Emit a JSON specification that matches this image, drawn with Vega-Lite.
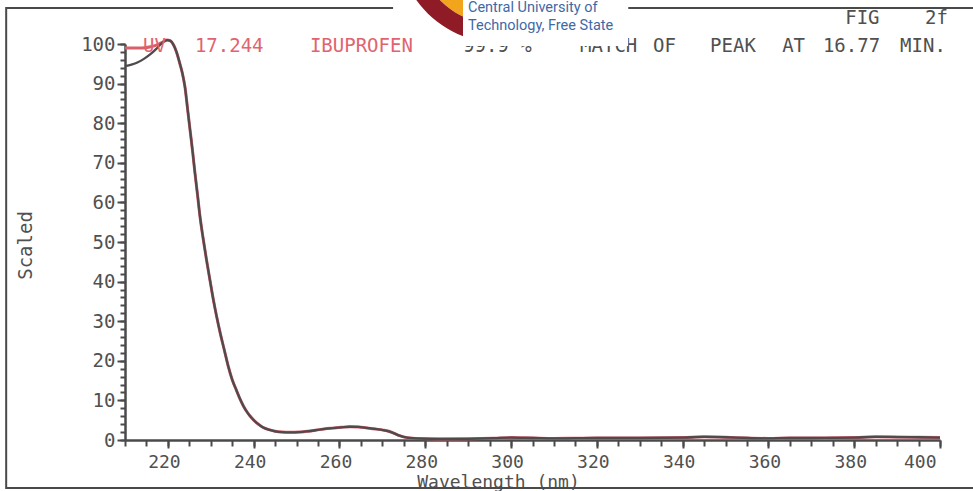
{
  "$schema": "https://vega.github.io/schema/vega-lite/v6.json",
  "width": 815,
  "height": 396,
  "autosize": {"type": "none"},
  "padding": {"left": 125, "top": 44, "right": 33, "bottom": 51},
  "background": "white",
  "config": {"view": {"stroke": null}},
  "datasets": {
    "spectra": [
      {"series": "library", "wavelength": 210, "value": 99.0},
      {"series": "library", "wavelength": 212, "value": 99.0},
      {"series": "library", "wavelength": 214, "value": 99.0},
      {"series": "library", "wavelength": 216, "value": 99.3},
      {"series": "library", "wavelength": 217.5, "value": 99.8},
      {"series": "library", "wavelength": 218.8, "value": 100.5},
      {"series": "library", "wavelength": 219.8, "value": 101.0},
      {"series": "library", "wavelength": 220.6, "value": 100.8},
      {"series": "library", "wavelength": 221.3, "value": 99.8},
      {"series": "library", "wavelength": 222, "value": 98.0},
      {"series": "library", "wavelength": 222.8, "value": 95.0},
      {"series": "library", "wavelength": 223.4, "value": 92.5},
      {"series": "library", "wavelength": 224, "value": 89.0},
      {"series": "library", "wavelength": 224.6, "value": 83.5},
      {"series": "library", "wavelength": 225.2, "value": 78.0},
      {"series": "library", "wavelength": 225.8, "value": 72.5},
      {"series": "library", "wavelength": 226.3, "value": 67.5},
      {"series": "library", "wavelength": 226.9, "value": 62.0},
      {"series": "library", "wavelength": 227.5, "value": 56.3},
      {"series": "library", "wavelength": 228.2, "value": 51.0},
      {"series": "library", "wavelength": 229, "value": 45.5},
      {"series": "library", "wavelength": 229.8, "value": 40.4},
      {"series": "library", "wavelength": 230.6, "value": 35.4},
      {"series": "library", "wavelength": 231.4, "value": 31.0},
      {"series": "library", "wavelength": 232.2, "value": 27.0},
      {"series": "library", "wavelength": 233.2, "value": 22.5},
      {"series": "library", "wavelength": 234.1, "value": 18.5},
      {"series": "library", "wavelength": 235, "value": 15.2},
      {"series": "library", "wavelength": 236, "value": 12.5},
      {"series": "library", "wavelength": 236.8, "value": 10.4},
      {"series": "library", "wavelength": 237.6, "value": 8.6},
      {"series": "library", "wavelength": 238.5, "value": 7.0},
      {"series": "library", "wavelength": 239.5, "value": 5.6},
      {"series": "library", "wavelength": 240.7, "value": 4.3},
      {"series": "library", "wavelength": 242, "value": 3.3},
      {"series": "library", "wavelength": 243.5, "value": 2.6},
      {"series": "library", "wavelength": 245, "value": 2.2},
      {"series": "library", "wavelength": 246.6, "value": 2.0},
      {"series": "library", "wavelength": 248.5, "value": 1.95},
      {"series": "library", "wavelength": 250.6, "value": 2.0},
      {"series": "library", "wavelength": 252.5, "value": 2.2},
      {"series": "library", "wavelength": 254.6, "value": 2.5},
      {"series": "library", "wavelength": 256.5, "value": 2.8},
      {"series": "library", "wavelength": 258.4, "value": 3.0},
      {"series": "library", "wavelength": 260.4, "value": 3.2},
      {"series": "library", "wavelength": 262.4, "value": 3.35},
      {"series": "library", "wavelength": 264.4, "value": 3.3},
      {"series": "library", "wavelength": 266.4, "value": 3.05},
      {"series": "library", "wavelength": 268.3, "value": 2.8},
      {"series": "library", "wavelength": 270.2, "value": 2.5},
      {"series": "library", "wavelength": 271.5, "value": 2.2},
      {"series": "library", "wavelength": 272.5, "value": 1.8},
      {"series": "library", "wavelength": 274, "value": 1.1},
      {"series": "library", "wavelength": 275.8, "value": 0.6},
      {"series": "library", "wavelength": 278.8, "value": 0.35},
      {"series": "library", "wavelength": 283.5, "value": 0.25},
      {"series": "library", "wavelength": 290, "value": 0.3},
      {"series": "library", "wavelength": 296, "value": 0.45},
      {"series": "library", "wavelength": 300, "value": 0.6},
      {"series": "library", "wavelength": 305, "value": 0.5},
      {"series": "library", "wavelength": 310, "value": 0.4},
      {"series": "library", "wavelength": 315, "value": 0.45},
      {"series": "library", "wavelength": 320, "value": 0.5},
      {"series": "library", "wavelength": 330, "value": 0.5},
      {"series": "library", "wavelength": 340, "value": 0.6},
      {"series": "library", "wavelength": 345, "value": 0.8},
      {"series": "library", "wavelength": 350, "value": 0.7},
      {"series": "library", "wavelength": 355, "value": 0.5},
      {"series": "library", "wavelength": 360, "value": 0.4},
      {"series": "library", "wavelength": 365, "value": 0.5},
      {"series": "library", "wavelength": 370, "value": 0.5},
      {"series": "library", "wavelength": 375, "value": 0.55},
      {"series": "library", "wavelength": 380, "value": 0.6},
      {"series": "library", "wavelength": 385, "value": 0.8},
      {"series": "library", "wavelength": 390, "value": 0.75},
      {"series": "library", "wavelength": 395, "value": 0.7},
      {"series": "library", "wavelength": 400, "value": 0.6},
      {"series": "sample", "wavelength": 210, "value": 94.4},
      {"series": "sample", "wavelength": 211.5, "value": 94.8},
      {"series": "sample", "wavelength": 213, "value": 95.4},
      {"series": "sample", "wavelength": 214.5, "value": 96.3},
      {"series": "sample", "wavelength": 216, "value": 97.5},
      {"series": "sample", "wavelength": 217.5, "value": 99.0},
      {"series": "sample", "wavelength": 218.8, "value": 100.4},
      {"series": "sample", "wavelength": 219.8, "value": 101.0},
      {"series": "sample", "wavelength": 220.6, "value": 100.8},
      {"series": "sample", "wavelength": 221.3, "value": 99.8},
      {"series": "sample", "wavelength": 222, "value": 98.0},
      {"series": "sample", "wavelength": 222.8, "value": 95.0},
      {"series": "sample", "wavelength": 223.4, "value": 92.5},
      {"series": "sample", "wavelength": 224, "value": 89.0},
      {"series": "sample", "wavelength": 224.6, "value": 83.5},
      {"series": "sample", "wavelength": 225.2, "value": 78.0},
      {"series": "sample", "wavelength": 225.8, "value": 72.5},
      {"series": "sample", "wavelength": 226.3, "value": 67.5},
      {"series": "sample", "wavelength": 226.9, "value": 62.0},
      {"series": "sample", "wavelength": 227.5, "value": 56.3},
      {"series": "sample", "wavelength": 228.2, "value": 51.0},
      {"series": "sample", "wavelength": 229, "value": 45.5},
      {"series": "sample", "wavelength": 229.8, "value": 40.4},
      {"series": "sample", "wavelength": 230.6, "value": 35.4},
      {"series": "sample", "wavelength": 231.4, "value": 31.0},
      {"series": "sample", "wavelength": 232.2, "value": 27.0},
      {"series": "sample", "wavelength": 233.2, "value": 22.5},
      {"series": "sample", "wavelength": 234.1, "value": 18.5},
      {"series": "sample", "wavelength": 235, "value": 15.2},
      {"series": "sample", "wavelength": 236, "value": 12.5},
      {"series": "sample", "wavelength": 236.8, "value": 10.4},
      {"series": "sample", "wavelength": 237.6, "value": 8.6},
      {"series": "sample", "wavelength": 238.5, "value": 7.0},
      {"series": "sample", "wavelength": 239.5, "value": 5.6},
      {"series": "sample", "wavelength": 240.7, "value": 4.3},
      {"series": "sample", "wavelength": 242, "value": 3.3},
      {"series": "sample", "wavelength": 243.5, "value": 2.6},
      {"series": "sample", "wavelength": 245, "value": 2.2},
      {"series": "sample", "wavelength": 246.6, "value": 2.0},
      {"series": "sample", "wavelength": 248.5, "value": 1.95},
      {"series": "sample", "wavelength": 250.6, "value": 2.0},
      {"series": "sample", "wavelength": 252.5, "value": 2.2},
      {"series": "sample", "wavelength": 254.6, "value": 2.5},
      {"series": "sample", "wavelength": 256.5, "value": 2.8},
      {"series": "sample", "wavelength": 258.4, "value": 3.0},
      {"series": "sample", "wavelength": 260.4, "value": 3.2},
      {"series": "sample", "wavelength": 262.4, "value": 3.35},
      {"series": "sample", "wavelength": 264.4, "value": 3.3},
      {"series": "sample", "wavelength": 266.4, "value": 3.05},
      {"series": "sample", "wavelength": 268.3, "value": 2.8},
      {"series": "sample", "wavelength": 270.2, "value": 2.5},
      {"series": "sample", "wavelength": 271.5, "value": 2.2},
      {"series": "sample", "wavelength": 272.5, "value": 1.8},
      {"series": "sample", "wavelength": 274, "value": 1.1},
      {"series": "sample", "wavelength": 275.8, "value": 0.6},
      {"series": "sample", "wavelength": 278.8, "value": 0.35},
      {"series": "sample", "wavelength": 283.5, "value": 0.25},
      {"series": "sample", "wavelength": 290, "value": 0.3},
      {"series": "sample", "wavelength": 296, "value": 0.45},
      {"series": "sample", "wavelength": 300, "value": 0.6},
      {"series": "sample", "wavelength": 305, "value": 0.5},
      {"series": "sample", "wavelength": 310, "value": 0.4},
      {"series": "sample", "wavelength": 315, "value": 0.45},
      {"series": "sample", "wavelength": 320, "value": 0.5},
      {"series": "sample", "wavelength": 330, "value": 0.5},
      {"series": "sample", "wavelength": 340, "value": 0.6},
      {"series": "sample", "wavelength": 345, "value": 0.8},
      {"series": "sample", "wavelength": 350, "value": 0.7},
      {"series": "sample", "wavelength": 355, "value": 0.5},
      {"series": "sample", "wavelength": 360, "value": 0.4},
      {"series": "sample", "wavelength": 365, "value": 0.5},
      {"series": "sample", "wavelength": 370, "value": 0.5},
      {"series": "sample", "wavelength": 375, "value": 0.55},
      {"series": "sample", "wavelength": 380, "value": 0.6},
      {"series": "sample", "wavelength": 385, "value": 0.8},
      {"series": "sample", "wavelength": 390, "value": 0.75},
      {"series": "sample", "wavelength": 395, "value": 0.7},
      {"series": "sample", "wavelength": 400, "value": 0.6}
    ]
  },
  "layer": [
    {
      "data": {"values": [{"frame": "border"}]},
      "mark": {"type": "rect", "fillOpacity": 0, "stroke": "#4a4a4a", "strokeWidth": 2},
      "encoding": {
        "x": {"datum": 182.3, "type": "quantitative", "scale": {"domain": [210, 400], "nice": false, "zero": false}, "axis": null},
        "x2": {"datum": 416},
        "y": {"datum": -12.1, "type": "quantitative", "scale": {"domain": [0, 100], "nice": false}, "axis": null},
        "y2": {"datum": 109.1}
      }
    },
    {
      "data": {"name": "spectra"},
      "transform": [{"filter": "datum.series === 'library'"}],
      "mark": {"type": "line", "color": "#d8606b", "strokeWidth": 3, "interpolate": "monotone"},
      "encoding": {
        "x": {"field": "wavelength", "type": "quantitative", "scale": {"domain": [210, 400], "nice": false, "zero": false},
          "axis": {"orient": "bottom", "values": [210,215,220,225,230,235,240,245,250,255,260,265,270,275,280,285,290,295,300,305,310,315,320,325,330,335,340,345,350,355,360,365,370,375,380,385,390,395,400],
            "labels": false, "domain": false, "grid": false, "title": null, "ticks": true, "tickSize": 6, "tickWidth": 2, "tickColor": "#4a4a4a"}},
        "y": {"field": "value", "type": "quantitative", "scale": {"domain": [0, 100], "nice": false},
          "axis": {"orient": "left", "values": [0,2,4,6,8,10,12,14,16,18,20,22,24,26,28,30,32,34,36,38,40,42,44,46,48,50,52,54,56,58,60,62,64,66,68,70,72,74,76,78,80,82,84,86,88,90,92,94,96,98,100],
            "labels": false, "domain": false, "grid": false, "title": null, "ticks": true, "tickSize": 5, "tickWidth": 2, "tickColor": "#4a4a4a"}}
      }
    },
    {
      "data": {"name": "spectra"},
      "transform": [{"filter": "datum.series === 'sample'"}],
      "mark": {"type": "line", "color": "#4f4a4c", "strokeWidth": 2.3, "interpolate": "monotone"},
      "encoding": {
        "x": {"field": "wavelength", "type": "quantitative", "scale": {"domain": [210, 400], "nice": false, "zero": false},
          "axis": {"orient": "bottom", "values": [220,240,260,280,300,320,340,360,380,400], "grid": false,
            "domain": true, "domainColor": "#4a4a4a", "domainWidth": 2.5,
            "tickSize": 8, "tickWidth": 2, "tickColor": "#4a4a4a",
            "labelFont": "DejaVu Sans Mono", "labelFontSize": 18, "labelColor": "#505050", "labelPadding": 5, "labelOffset": -4,
            "title": "Wavelength (nm)", "titleFont": "DejaVu Sans Mono", "titleFontSize": 18, "titleFontWeight": "normal", "titleColor": "#505050",
            "titleX": 373, "titleY": 42, "titleAlign": "center", "titleBaseline": "middle"}},
        "y": {"field": "value", "type": "quantitative", "scale": {"domain": [0, 100], "nice": false},
          "axis": {"orient": "left", "values": [0,10,20,30,40,50,60,70,80,90,100], "grid": false,
            "domain": true, "domainColor": "#4a4a4a", "domainWidth": 2.5,
            "tickSize": 8, "tickWidth": 2, "tickColor": "#4a4a4a",
            "labelFont": "DejaVu Sans Mono", "labelFontSize": 19, "labelColor": "#505050", "labelPadding": 2,
            "title": "Scaled", "titleFont": "DejaVu Sans Mono", "titleFontSize": 19, "titleFontWeight": "normal", "titleColor": "#505050",
            "titleX": -100, "titleY": 201, "titleAngle": 270, "titleAlign": "center", "titleBaseline": "middle"}}
      }
    },
    {
      "data": {"values": [{"label": "UV"}]},
      "mark": {"type": "text", "align": "left", "baseline": "middle", "font": "DejaVu Sans Mono", "fontSize": 19, "color": "#e0646f"},
      "encoding": {
        "text": {"field": "label"},
        "x": {"datum": 214.2, "type": "quantitative", "scale": {"domain": [210, 400], "nice": false, "zero": false}, "axis": null},
        "y": {"datum": 99.6, "type": "quantitative", "scale": {"domain": [0, 100], "nice": false}, "axis": null}
      }
    },
    {
      "data": {"values": [{"label": "17.244"}]},
      "mark": {"type": "text", "align": "left", "baseline": "middle", "font": "DejaVu Sans Mono", "fontSize": 19, "color": "#e0646f"},
      "encoding": {
        "text": {"field": "label"},
        "x": {"datum": 226.3, "type": "quantitative", "scale": {"domain": [210, 400], "nice": false, "zero": false}, "axis": null},
        "y": {"datum": 99.6, "type": "quantitative", "scale": {"domain": [0, 100], "nice": false}, "axis": null}
      }
    },
    {
      "data": {"values": [{"label": "IBUPROFEN"}]},
      "mark": {"type": "text", "align": "left", "baseline": "middle", "font": "DejaVu Sans Mono", "fontSize": 19, "color": "#e0646f"},
      "encoding": {
        "text": {"field": "label"},
        "x": {"datum": 253.1, "type": "quantitative", "scale": {"domain": [210, 400], "nice": false, "zero": false}, "axis": null},
        "y": {"datum": 99.6, "type": "quantitative", "scale": {"domain": [0, 100], "nice": false}, "axis": null}
      }
    },
    {
      "data": {"values": [{"label": "99.9 %"}]},
      "mark": {"type": "text", "align": "left", "baseline": "middle", "font": "DejaVu Sans Mono", "fontSize": 19, "color": "#505050"},
      "encoding": {
        "text": {"field": "label"},
        "x": {"datum": 288.8, "type": "quantitative", "scale": {"domain": [210, 400], "nice": false, "zero": false}, "axis": null},
        "y": {"datum": 99.6, "type": "quantitative", "scale": {"domain": [0, 100], "nice": false}, "axis": null}
      }
    },
    {
      "data": {"values": [{"label": "MATCH"}]},
      "mark": {"type": "text", "align": "left", "baseline": "middle", "font": "DejaVu Sans Mono", "fontSize": 19, "color": "#505050"},
      "encoding": {
        "text": {"field": "label"},
        "x": {"datum": 316.1, "type": "quantitative", "scale": {"domain": [210, 400], "nice": false, "zero": false}, "axis": null},
        "y": {"datum": 99.6, "type": "quantitative", "scale": {"domain": [0, 100], "nice": false}, "axis": null}
      }
    },
    {
      "data": {"values": [{"label": "OF"}]},
      "mark": {"type": "text", "align": "left", "baseline": "middle", "font": "DejaVu Sans Mono", "fontSize": 19, "color": "#505050"},
      "encoding": {
        "text": {"field": "label"},
        "x": {"datum": 333.1, "type": "quantitative", "scale": {"domain": [210, 400], "nice": false, "zero": false}, "axis": null},
        "y": {"datum": 99.6, "type": "quantitative", "scale": {"domain": [0, 100], "nice": false}, "axis": null}
      }
    },
    {
      "data": {"values": [{"label": "PEAK"}]},
      "mark": {"type": "text", "align": "left", "baseline": "middle", "font": "DejaVu Sans Mono", "fontSize": 19, "color": "#505050"},
      "encoding": {
        "text": {"field": "label"},
        "x": {"datum": 346.4, "type": "quantitative", "scale": {"domain": [210, 400], "nice": false, "zero": false}, "axis": null},
        "y": {"datum": 99.6, "type": "quantitative", "scale": {"domain": [0, 100], "nice": false}, "axis": null}
      }
    },
    {
      "data": {"values": [{"label": "AT"}]},
      "mark": {"type": "text", "align": "left", "baseline": "middle", "font": "DejaVu Sans Mono", "fontSize": 19, "color": "#505050"},
      "encoding": {
        "text": {"field": "label"},
        "x": {"datum": 363.2, "type": "quantitative", "scale": {"domain": [210, 400], "nice": false, "zero": false}, "axis": null},
        "y": {"datum": 99.6, "type": "quantitative", "scale": {"domain": [0, 100], "nice": false}, "axis": null}
      }
    },
    {
      "data": {"values": [{"label": "16.77"}]},
      "mark": {"type": "text", "align": "left", "baseline": "middle", "font": "DejaVu Sans Mono", "fontSize": 19, "color": "#505050"},
      "encoding": {
        "text": {"field": "label"},
        "x": {"datum": 372.7, "type": "quantitative", "scale": {"domain": [210, 400], "nice": false, "zero": false}, "axis": null},
        "y": {"datum": 99.6, "type": "quantitative", "scale": {"domain": [0, 100], "nice": false}, "axis": null}
      }
    },
    {
      "data": {"values": [{"label": "MIN."}]},
      "mark": {"type": "text", "align": "left", "baseline": "middle", "font": "DejaVu Sans Mono", "fontSize": 19, "color": "#505050"},
      "encoding": {
        "text": {"field": "label"},
        "x": {"datum": 390.7, "type": "quantitative", "scale": {"domain": [210, 400], "nice": false, "zero": false}, "axis": null},
        "y": {"datum": 99.6, "type": "quantitative", "scale": {"domain": [0, 100], "nice": false}, "axis": null}
      }
    },
    {
      "data": {"values": [{"label": "FIG"}]},
      "mark": {"type": "text", "align": "left", "baseline": "middle", "font": "DejaVu Sans Mono", "fontSize": 19, "color": "#505050"},
      "encoding": {
        "text": {"field": "label"},
        "x": {"datum": 377.9, "type": "quantitative", "scale": {"domain": [210, 400], "nice": false, "zero": false}, "axis": null},
        "y": {"datum": 106.6, "type": "quantitative", "scale": {"domain": [0, 100], "nice": false}, "axis": null}
      }
    },
    {
      "data": {"values": [{"label": "2f"}]},
      "mark": {"type": "text", "align": "left", "baseline": "middle", "font": "DejaVu Sans Mono", "fontSize": 19, "color": "#505050"},
      "encoding": {
        "text": {"field": "label"},
        "x": {"datum": 396.5, "type": "quantitative", "scale": {"domain": [210, 400], "nice": false, "zero": false}, "axis": null},
        "y": {"datum": 106.6, "type": "quantitative", "scale": {"domain": [0, 100], "nice": false}, "axis": null}
      }
    },
    {
      "data": {"values": [{"logo": "background"}]},
      "mark": {"type": "rect", "color": "white", "opacity": 1},
      "encoding": {
        "x": {"datum": 272.5, "type": "quantitative", "scale": {"domain": [210, 400], "nice": false, "zero": false}, "axis": null},
        "x2": {"datum": 327.3},
        "y": {"datum": 103.5, "type": "quantitative", "scale": {"domain": [0, 100], "nice": false}, "axis": null},
        "y2": {"datum": 116.2}
      }
    },
    {
      "data": {"values": [{"logo": "gold"}]},
      "mark": {"type": "point", "filled": true, "opacity": 1, "color": "#f2a51c", "strokeWidth": 0, "size": 48400,
        "shape": "M 0 0 L 0 0.773 A 0.773 0.773 0 0 1 -0.773 0 Z"},
      "encoding": {
        "x": {"datum": 297.42, "type": "quantitative", "scale": {"domain": [210, 400], "nice": false, "zero": false}, "axis": null},
        "y": {"datum": 126.26, "type": "quantitative", "scale": {"domain": [0, 100], "nice": false}, "axis": null}
      }
    },
    {
      "data": {"values": [{"logo": "maroon"}]},
      "mark": {"type": "point", "filled": true, "opacity": 1, "color": "#8e1b25", "strokeWidth": 0, "size": 48400,
        "shape": "M 0 0.936 A 0.936 0.936 0 0 1 -0.936 0 L -0.773 0 A 0.773 0.773 0 0 0 0 0.773 Z"},
      "encoding": {
        "x": {"datum": 297.42, "type": "quantitative", "scale": {"domain": [210, 400], "nice": false, "zero": false}, "axis": null},
        "y": {"datum": 126.26, "type": "quantitative", "scale": {"domain": [0, 100], "nice": false}, "axis": null}
      }
    },
    {
      "data": {"values": [{"logo": "textbox"}]},
      "mark": {"type": "rect", "color": "white", "opacity": 1},
      "encoding": {
        "x": {"datum": 288.8, "type": "quantitative", "scale": {"domain": [210, 400], "nice": false, "zero": false}, "axis": null},
        "x2": {"datum": 327.3},
        "y": {"datum": 99.5, "type": "quantitative", "scale": {"domain": [0, 100], "nice": false}, "axis": null},
        "y2": {"datum": 116.2}
      }
    },
    {
      "data": {"values": [{"label": "Central University of"}]},
      "mark": {"type": "text", "align": "left", "baseline": "middle", "font": "Roboto", "fontSize": 14.5, "color": "#3f69a6"},
      "encoding": {
        "text": {"field": "label"},
        "x": {"datum": 289.96, "type": "quantitative", "scale": {"domain": [210, 400], "nice": false, "zero": false}, "axis": null},
        "y": {"datum": 109.0, "type": "quantitative", "scale": {"domain": [0, 100], "nice": false}, "axis": null}
      }
    },
    {
      "data": {"values": [{"label": "Technology, Free State"}]},
      "mark": {"type": "text", "align": "left", "baseline": "middle", "font": "Roboto", "fontSize": 14.5, "color": "#3f69a6"},
      "encoding": {
        "text": {"field": "label"},
        "x": {"datum": 289.96, "type": "quantitative", "scale": {"domain": [210, 400], "nice": false, "zero": false}, "axis": null},
        "y": {"datum": 104.6, "type": "quantitative", "scale": {"domain": [0, 100], "nice": false}, "axis": null}
      }
    }
  ],
  "resolve": {"axis": {"x": "independent", "y": "independent"}}
}
